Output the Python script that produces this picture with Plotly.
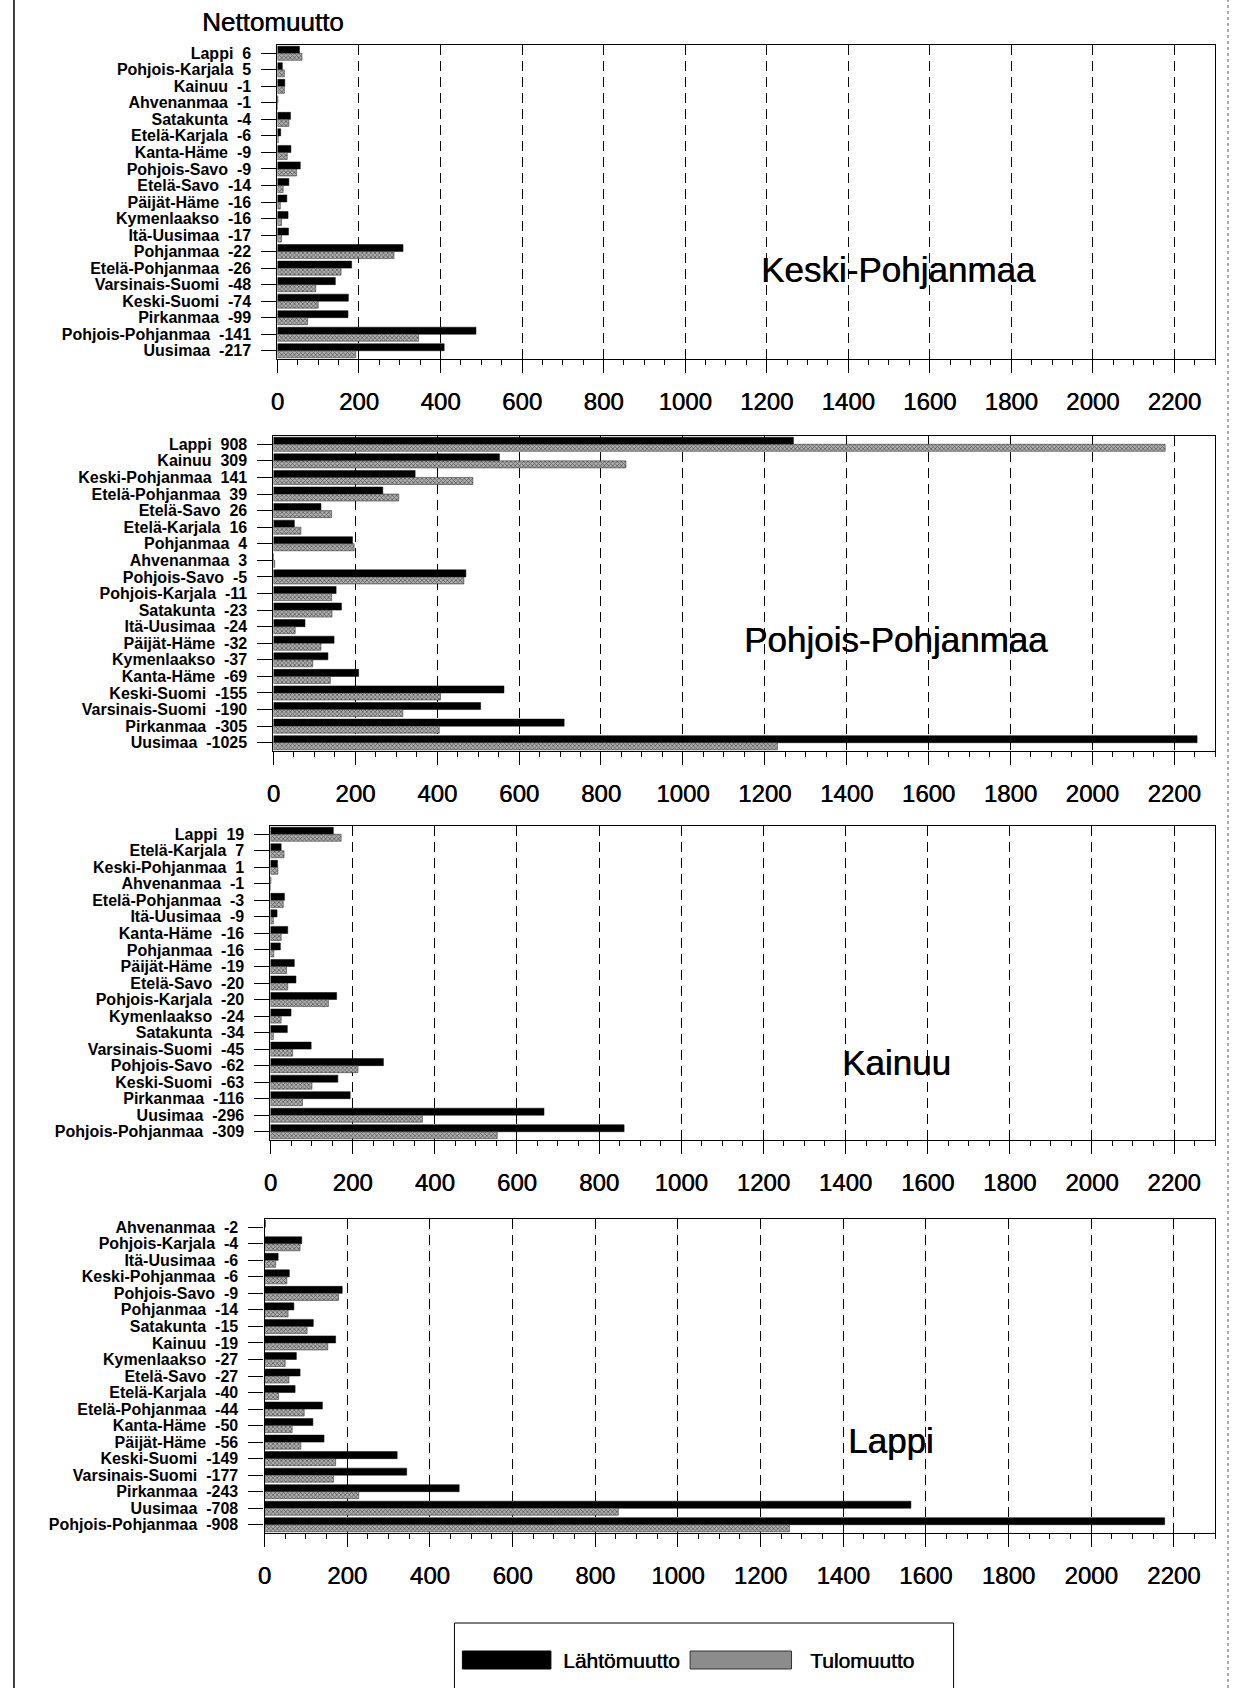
import plotly.graph_objects as go

# ---------------- data ----------------
regions_kp = ["Lappi", "Pohjois-Karjala", "Kainuu", "Ahvenanmaa", "Satakunta", "Etelä-Karjala",
              "Kanta-Häme", "Pohjois-Savo", "Etelä-Savo", "Päijät-Häme", "Kymenlaakso", "Itä-Uusimaa",
              "Pohjanmaa", "Etelä-Pohjanmaa", "Varsinais-Suomi", "Keski-Suomi", "Pirkanmaa",
              "Pohjois-Pohjanmaa", "Uusimaa"]
net_kp = [6, 5, -1, -1, -4, -6, -9, -9, -14, -16, -16, -17, -22, -26, -48, -74, -99, -141, -217]
lahto_kp = [54, 12, 18, 1, 32, 8, 33, 56, 28, 23, 26, 27, 308, 182, 142, 174, 173, 487, 409]
tulo_kp = [60, 17, 17, 0, 28, 2, 24, 47, 14, 7, 10, 10, 286, 156, 94, 100, 74, 346, 192]

regions_pp = ["Lappi", "Kainuu", "Keski-Pohjanmaa", "Etelä-Pohjanmaa", "Etelä-Savo", "Etelä-Karjala",
              "Pohjanmaa", "Ahvenanmaa", "Pohjois-Savo", "Pohjois-Karjala", "Satakunta", "Itä-Uusimaa",
              "Päijät-Häme", "Kymenlaakso", "Kanta-Häme", "Keski-Suomi", "Varsinais-Suomi",
              "Pirkanmaa", "Uusimaa"]
net_pp = [908, 309, 141, 39, 26, 16, 4, 3, -5, -11, -23, -24, -32, -37, -69, -155, -190, -305, -1025]
lahto_pp = [1270, 552, 346, 267, 116, 51, 193, 0, 470, 153, 166, 77, 148, 133, 208, 563, 506, 710, 2256]
tulo_pp = [2178, 861, 487, 306, 142, 67, 197, 3, 465, 142, 143, 53, 116, 96, 139, 408, 316, 405, 1231]

regions_ka = ["Lappi", "Etelä-Karjala", "Keski-Pohjanmaa", "Ahvenanmaa", "Etelä-Pohjanmaa", "Itä-Uusimaa",
              "Kanta-Häme", "Pohjanmaa", "Päijät-Häme", "Etelä-Savo", "Pohjois-Karjala", "Kymenlaakso",
              "Satakunta", "Varsinais-Suomi", "Pohjois-Savo", "Keski-Suomi", "Pirkanmaa", "Uusimaa",
              "Pohjois-Pohjanmaa"]
net_ka = [19, 7, 1, -1, -3, -9, -16, -16, -19, -20, -20, -24, -34, -45, -62, -63, -116, -296, -309]
lahto_ka = [153, 26, 17, 1, 34, 16, 42, 24, 58, 62, 161, 50, 41, 99, 275, 164, 194, 666, 861]
tulo_ka = [172, 33, 18, 0, 31, 7, 26, 8, 39, 42, 141, 26, 7, 54, 213, 101, 78, 370, 552]

regions_la = ["Ahvenanmaa", "Pohjois-Karjala", "Itä-Uusimaa", "Keski-Pohjanmaa", "Pohjois-Savo",
              "Pohjanmaa", "Satakunta", "Kainuu", "Kymenlaakso", "Etelä-Savo", "Etelä-Karjala",
              "Etelä-Pohjanmaa", "Kanta-Häme", "Päijät-Häme", "Keski-Suomi", "Varsinais-Suomi",
              "Pirkanmaa", "Uusimaa", "Pohjois-Pohjanmaa"]
net_la = [-2, -4, -6, -6, -9, -14, -15, -19, -27, -27, -40, -44, -50, -56, -149, -177, -243, -708, -908]
lahto_la = [2, 90, 33, 60, 188, 71, 118, 172, 77, 86, 74, 140, 117, 144, 321, 344, 471, 1564, 2178]
tulo_la = [0, 86, 27, 54, 179, 57, 103, 153, 50, 59, 34, 96, 67, 88, 172, 167, 228, 856, 1270]

panel_names = ["Keski-Pohjanmaa", "Pohjois-Pohjanmaa", "Kainuu", "Lappi"]
series_names = ["Lähtömuutto", "Tulomuutto"]

# ---------------- layout geometry (pixels) ----------------
W, H = 1233, 1688
RIGHT = 1215
geom = [
    dict(left=272, top=45, bottom=359, lx=897, ly=270),
    dict(left=268, top=436, bottom=751, lx=894, ly=640),
    dict(left=265, top=826, bottom=1140, lx=895, ly=1062),
    dict(left=259, top=1219, bottom=1533, lx=889, ly=1440),
]

def fx(p):
    return p / W

def fy(p):
    return 1 - p / H

FONT = "Liberation Sans, Arial, sans-serif"
HEAVY = "0.45px 0px 0px black"

data = [
    (regions_kp, net_kp, lahto_kp, tulo_kp),
    (regions_pp, net_pp, lahto_pp, tulo_pp),
    (regions_ka, net_ka, lahto_ka, tulo_ka),
    (regions_la, net_la, lahto_la, tulo_la),
]

fig = go.Figure()
annotations = []
for i, ((regs, nets, lah, tul), g, pname) in enumerate(zip(data, geom, panel_names)):
    sfx = "" if i == 0 else str(i + 1)
    labels = [f"{r}\u00a0\u00a0{n}" for r, n in zip(regs, nets)]
    fig.add_trace(go.Bar(
        y=labels, x=lah, orientation="h", name=series_names[0],
        marker=dict(color="black", line=dict(color="black", width=0.5)),
        xaxis="x" + sfx, yaxis="y" + sfx, showlegend=False))
    fig.add_trace(go.Bar(
        y=labels, x=tul, orientation="h", name=series_names[1],
        marker=dict(color="#b0b0b0",
                    pattern=dict(shape="x", fgcolor="black", bgcolor="#b0b0b0", size=3, solidity=0.45),
                    line=dict(color="#222", width=0.5)),
        xaxis="x" + sfx, yaxis="y" + sfx, showlegend=False))

    fig.layout["xaxis" + sfx] = dict(
        domain=[fx(g["left"]), fx(RIGHT)], anchor="y" + sfx,
        range=[0, 2300], tick0=0, dtick=200,
        ticks="outside", ticklen=13, tickwidth=1, tickcolor="black",
        minor=dict(tick0=0, dtick=50, ticks="outside", ticklen=5, tickcolor="black", showgrid=False),
        showgrid=True, gridcolor="black", gridwidth=1, griddash="10px,6px",
        showline=True, linecolor="black", linewidth=1.2, mirror=True,
        zeroline=False, tickfont=dict(size=24, color="black", family=FONT, shadow=HEAVY),
        ticklabelstandoff=8)
    fig.layout["yaxis" + sfx] = dict(
        domain=[fy(g["bottom"]), fy(g["top"])], anchor="x" + sfx,
        type="category", autorange="reversed",
        tickmode="array", tickvals=labels, ticktext=labels,
        ticks="outside", ticklen=15, tickwidth=1, tickcolor="black",
        showline=True, linecolor="black", linewidth=1.2, mirror=True,
        showgrid=False, zeroline=False,
        tickfont=dict(size=16, color="black", family=FONT, weight="bold"),
        ticklabelstandoff=7)
    annotations.append(dict(
        text=pname, x=fx(g["lx"]), y=fy(g["ly"]), xref="paper", yref="paper",
        xanchor="center", yanchor="middle", showarrow=False,
        font=dict(size=35, color="black", family=FONT, shadow=HEAVY)))

annotations.append(dict(
    text="Nettomuutto", x=fx(268), y=fy(22), xref="paper", yref="paper",
    xanchor="center", yanchor="middle", showarrow=False,
    font=dict(size=26, color="black", family=FONT, shadow=HEAVY)))

# legend (drawn manually)
annotations.append(dict(
    text=series_names[0], x=fx(557), y=fy(1660), xref="paper", yref="paper",
    xanchor="left", yanchor="middle", showarrow=False,
    font=dict(size=21, color="black", family=FONT, shadow=HEAVY)))
annotations.append(dict(
    text=series_names[1], x=fx(806), y=fy(1660), xref="paper", yref="paper",
    xanchor="left", yanchor="middle", showarrow=False,
    font=dict(size=21, color="black", family=FONT, shadow=HEAVY)))

shapes = [
    # legend box
    dict(type="rect", xref="paper", yref="paper", x0=fx(450), x1=fx(952), y0=fy(1700), y1=fy(1623),
         line=dict(color="black", width=1), fillcolor="rgba(0,0,0,0)"),
    # legend swatches
    dict(type="rect", xref="paper", yref="paper", x0=fx(458), x1=fx(547), y0=fy(1669), y1=fy(1651),
         line=dict(color="black", width=1), fillcolor="black"),
    dict(type="rect", xref="paper", yref="paper", x0=fx(687), x1=fx(789), y0=fy(1669), y1=fy(1651),
         line=dict(color="#333", width=1), fillcolor="#8c8c8c"),
    # page borders
    dict(type="line", xref="paper", yref="paper", x0=fx(7), x1=fx(7), y0=0, y1=1,
         line=dict(color="black", width=1.5)),
    dict(type="line", xref="paper", yref="paper", x0=fx(1228), x1=fx(1228), y0=0, y1=1,
         line=dict(color="#555", width=1, dash="dot")),
]

fig.update_layout(
    width=W, height=H, autosize=False,
    margin=dict(l=0, r=0, t=0, b=0),
    paper_bgcolor="white", plot_bgcolor="white",
    barmode="group", bargap=0.15, bargroupgap=0,
    showlegend=False,
    font=dict(family=FONT, color="black"),
    annotations=annotations, shapes=shapes,
)

fig.write_html("out.html", config={"displayModeBar": False},
               post_script="document.body.style.margin='0';")
